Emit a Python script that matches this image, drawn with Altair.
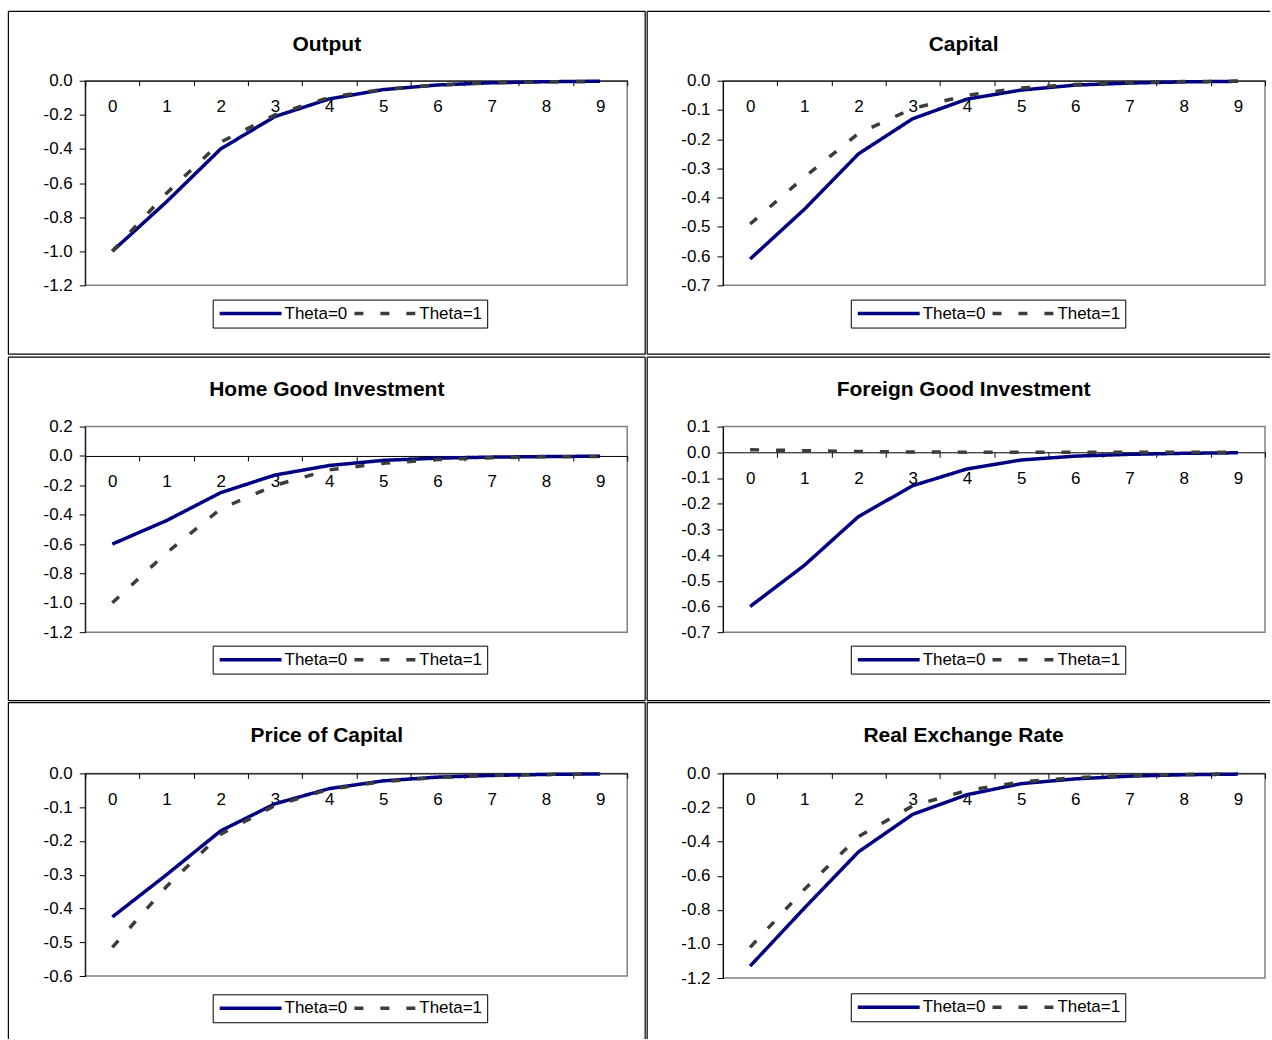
import altair as alt
import pandas as pd

# ---------------- data ----------------
periods = [0, 1, 2, 3, 4, 5, 6, 7, 8, 9]
series_names = ["Theta=0", "Theta=1"]

output_theta0 = [-1.00, -0.71, -0.40, -0.21, -0.107, -0.052, -0.025, -0.012, -0.006, -0.003]
output_theta1 = [-1.00, -0.66, -0.36, -0.20, -0.098, -0.050, -0.025, -0.012, -0.006, -0.003]

capital_theta0 = [-0.61, -0.44, -0.25, -0.13, -0.063, -0.032, -0.015, -0.008, -0.004, -0.002]
capital_theta1 = [-0.49, -0.33, -0.18, -0.095, -0.050, -0.025, -0.013, -0.006, -0.003, -0.0015]

home_theta0 = [-0.60, -0.44, -0.25, -0.13, -0.065, -0.030, -0.015, -0.008, -0.004, -0.002]
home_theta1 = [-1.00, -0.66, -0.36, -0.20, -0.095, -0.050, -0.025, -0.012, -0.006, -0.003]

foreign_theta0 = [-0.60, -0.44, -0.25, -0.13, -0.065, -0.030, -0.015, -0.008, -0.004, -0.002]
foreign_theta1 = [0.010, 0.006, 0.003, 0.001, 0.0005, 0.0, 0.0, 0.0, 0.0, 0.0]

price_theta0 = [-0.425, -0.30, -0.17, -0.09, -0.045, -0.022, -0.011, -0.006, -0.003, -0.0015]
price_theta1 = [-0.515, -0.335, -0.18, -0.095, -0.047, -0.024, -0.012, -0.006, -0.003, -0.0015]

rer_theta0 = [-1.13, -0.79, -0.46, -0.24, -0.125, -0.060, -0.032, -0.016, -0.008, -0.004]
rer_theta1 = [-1.02, -0.68, -0.37, -0.19, -0.100, -0.050, -0.025, -0.012, -0.006, -0.003]

ticks_output = [0.0, -0.2, -0.4, -0.6, -0.8, -1.0, -1.2]
ticks_capital = [0.0, -0.1, -0.2, -0.3, -0.4, -0.5, -0.6, -0.7]
ticks_home = [0.2, 0.0, -0.2, -0.4, -0.6, -0.8, -1.0, -1.2]
ticks_foreign = [0.1, 0.0, -0.1, -0.2, -0.3, -0.4, -0.5, -0.6, -0.7]
ticks_price = [0.0, -0.1, -0.2, -0.3, -0.4, -0.5, -0.6]
ticks_rer = [0.0, -0.2, -0.4, -0.6, -0.8, -1.0, -1.2]

titles = ["Output", "Capital", "Home Good Investment", "Foreign Good Investment",
          "Price of Capital", "Real Exchange Rate"]

# ---------------- style / layout ----------------
FONT = "Liberation Sans"
NAVY = "#000080"
GREY = "#3c3c3c"
TITLE_SIZE = 21
PLOT_W = 543
COL_GAP = 96
ROW_GAP = 141.5
PLOT_LEFT = [84, 84 + PLOT_W + COL_GAP]
ROW_H = [205, 206, 205]
PLOT_TOP = [79, 79 + ROW_H[0] + ROW_GAP, 79 + ROW_H[0] + ROW_GAP + ROW_H[1] + ROW_GAP]
FRAME_X = [(7, 645), (647, 1271)]
FRAME_Y = [(9.5, 353), (356, 700), (702, 1039)]
TITLE_BASE = [49, 395, 742]
TITLE_DX = [0, 5]
LEGEND_LEFT = [211.7, 851]
LEGEND_TOP = [[298.3, 298.3], [645, 645], [994.3, 993.3]]
FRAME_STROKE = 1.2


def frame_edges(col, row):
    x1, x2 = FRAME_X[col]
    y1, y2 = FRAME_Y[row]
    edges = [(x1, y1, x2, y1), (x1, y1, x1, y2)]          # top, left
    if col == 0:
        edges.append((x2, y1, x2, y2))                      # right
    if row < 2:
        edges.append((x1, y2, x2, y2))                      # bottom
    return edges


def panel(title, theta0, theta1, ticks, height, col, row):
    plot_top = PLOT_TOP[row]
    pl = PLOT_LEFT[col]
    df = pd.DataFrame({
        "t": periods + periods,
        "value": theta0 + theta1,
        "series": [series_names[0]] * len(periods) + [series_names[1]] * len(periods),
    })
    ymin, ymax = min(ticks), max(ticks)
    zero_from_top = height * ymax / (ymax - ymin)
    x_axis_offset = -(height - zero_from_top)

    one = pd.DataFrame({"k": [0]})
    frame_layers = [
        alt.Chart(one).mark_rule(color="black", strokeWidth=FRAME_STROKE).encode(
            x=alt.value(ax1 - pl), x2=alt.value(ax2 - pl),
            y=alt.value(ay1 - plot_top), y2=alt.value(ay2 - plot_top),
        )
        for (ax1, ay1, ax2, ay2) in frame_edges(col, row)
    ]

    legend = alt.Legend(
        title=None, orient="none",
        legendX=LEGEND_LEFT[col] - pl, legendY=LEGEND_TOP[row][col] - plot_top,
        direction="horizontal", symbolType="stroke", symbolSize=3844,
        symbolStrokeWidth=3.5, clipHeight=18, labelFont=FONT, labelFontSize=17,
        labelColor="black", labelOffset=1, columnPadding=5, padding=5,
        strokeColor="black", fillColor="white",
    )

    lines = alt.Chart(df).mark_line(strokeWidth=3.5).encode(
        x=alt.X("t:O",
                scale=alt.Scale(type="band", paddingInner=0, paddingOuter=0),
                axis=alt.Axis(title=None, orient="bottom", offset=x_axis_offset,
                              tickBand="extent", labelAngle=0, tickSize=5,
                              labelPadding=13, labelFontSize=17, domainColor="black",
                              tickColor="black", labelColor="black", grid=False)),
        y=alt.Y("value:Q",
                scale=alt.Scale(domain=[ymin, ymax], nice=False, zero=False),
                axis=alt.Axis(title=None, values=ticks, tickSize=6, labelPadding=7,
                              labelFontSize=17, grid=False, domainColor="black",
                              tickColor="black", labelColor="black",
                              labelExpr="replace(format(datum.value, '.1f'), '\u2212', '-')")),
        color=alt.Color("series:N",
                        scale=alt.Scale(domain=series_names, range=[NAVY, GREY]),
                        legend=legend),
        strokeDash=alt.StrokeDash("series:N",
                                  scale=alt.Scale(domain=series_names,
                                                  range=[[1, 0], [9, 17]]),
                                  legend=legend),
    )

    bounds_top = (FRAME_Y[row][0] - plot_top) - FRAME_STROKE / 2
    title_rel = TITLE_BASE[row] - plot_top
    return alt.layer(*frame_layers, lines).properties(
        width=PLOT_W, height=height,
        title=alt.TitleParams(text=title, frame="bounds", anchor="middle",
                              offset=bounds_top - title_rel - TITLE_SIZE,
                              baseline="alphabetic", dx=TITLE_DX[col],
                              font=FONT, fontSize=TITLE_SIZE, fontWeight="bold",
                              color="black"),
    )


p_output = panel(titles[0], output_theta0, output_theta1, ticks_output, 205, 0, 0)
p_capital = panel(titles[1], capital_theta0, capital_theta1, ticks_capital, 205, 1, 0)
p_home = panel(titles[2], home_theta0, home_theta1, ticks_home, 206, 0, 1)
p_foreign = panel(titles[3], foreign_theta0, foreign_theta1, ticks_foreign, 206, 1, 1)
p_price = panel(titles[4], price_theta0, price_theta1, ticks_price, 203, 0, 2)
p_rer = panel(titles[5], rer_theta0, rer_theta1, ticks_rer, 205, 1, 2)

res = dict(x="independent", y="independent", color="independent", strokeDash="independent")

chart = alt.concat(
    p_output, p_capital, p_home, p_foreign, p_price, p_rer,
    columns=2, spacing={"row": ROW_GAP, "column": COL_GAP}, bounds="flush", align="each",
).resolve_scale(**res).properties(
    padding={"left": 7 - FRAME_STROKE / 2, "top": 9.5 - FRAME_STROKE / 2, "right": 0, "bottom": 0},
    background="white",
).configure_view(
    stroke="#808080", strokeWidth=1.5
).configure_axis(
    labelFont=FONT, domainWidth=1, tickWidth=1
)

chart.save("out.html", embed_options={"renderer": "svg", "actions": False})
